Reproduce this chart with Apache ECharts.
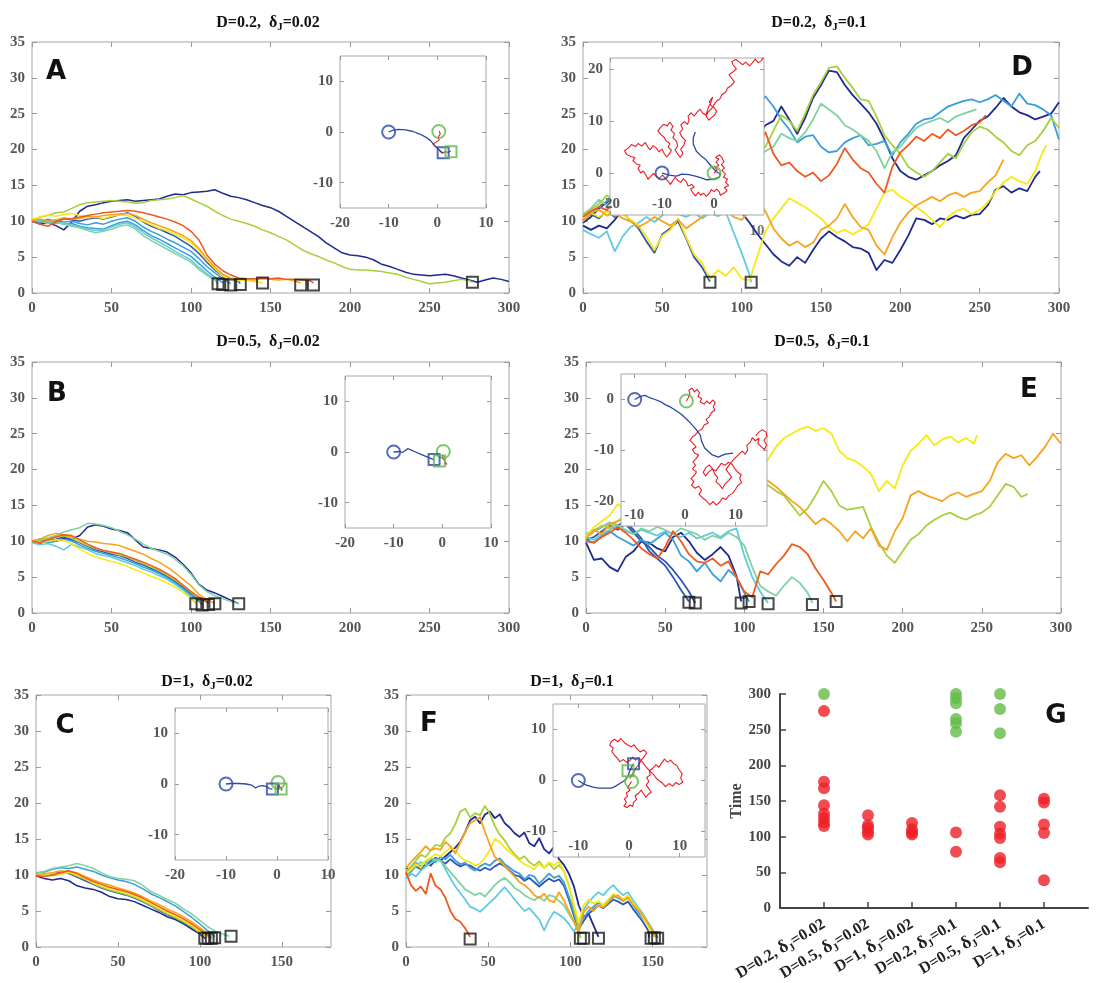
<!DOCTYPE html>
<html>
<head>
<meta charset="utf-8">
<script src="https://cdn.jsdelivr.net/npm/echarts@6.0.0/dist/echarts.min.js"></script>
<style>
html, body { margin: 0; padding: 0; background: #fff; }
#chart { width: 1097px; height: 983px; }
</style>
</head>
<body>
<div id="chart"></div>
<script>
// ---------- data ----------
const STEP = 5;     // panels A-E: one value every 5 time units
const STEP_F = 3;   // panel F: one value every 3 time units

// A  D=0.2, dJ=0.02
const aNavy = [10.0,9.6,9.8,9.4,8.8,9.9,11.4,12.1,12.3,12.6,12.8,12.9,13.0,12.8,12.9,13.0,13.1,13.5,13.8,13.7,14.0,14.1,14.2,14.4,13.9,13.5,13.3,13.0,12.6,12.2,11.9,11.4,10.7,10.0,9.3,8.6,7.9,7.0,6.3,5.6,5.3,5.2,5.0,4.6,4.0,3.7,3.3,2.9,2.6,2.5,2.4,2.5,2.6,2.4,2.1,1.8,1.5,1.8,2.1,1.9,1.6];
const aYGreen = [10.2,10.6,10.8,11.2,11.3,11.8,12.3,12.6,12.7,12.8,12.9,12.8,12.7,12.5,12.6,12.9,13.0,13.1,13.3,13.6,13.1,12.6,12.1,11.4,10.8,10.3,10.0,9.7,9.3,8.8,8.4,7.9,7.4,6.7,6.0,5.5,5.1,4.6,4.2,3.7,3.3,3.2,3.2,3.1,3.0,2.8,2.6,2.2,1.9,1.6,1.3,1.4,1.5,1.7,1.9,1.7,1.5];
const aORed = [10.0,9.6,9.3,9.9,10.3,10.4,10.6,10.8,11.0,11.2,11.3,11.4,11.5,11.4,11.2,10.9,10.6,10.3,9.9,9.4,8.6,7.4,5.3,4.0,3.1,2.5,2.1,2.0,2.0,2.1,2.0,2.1,1.9,1.9,1.8,1.7,1.4];
const aOrange = [10.1,10.3,10.0,10.2,10.5,10.3,10.4,10.7,10.6,10.8,10.9,11.0,11.1,10.8,10.3,9.8,9.4,9.0,8.5,8.0,7.3,6.2,4.8,3.6,2.6,2.1,1.9,1.9,1.8,2.0,1.9,1.8,1.9,1.7,1.4];
const aYellow = [10.3,10.6,10.9,10.7,10.9,11.1,10.8,10.5,10.6,10.4,10.7,10.9,10.8,10.4,10.0,9.5,9.0,8.7,8.2,7.7,7.0,5.9,4.6,3.4,2.4,1.9,1.7,1.8,1.6,1.4];
const aBlue2 = [10.0,9.7,10.2,10.0,10.4,10.2,10.0,10.3,10.5,10.3,10.6,10.9,11.2,10.7,9.9,9.3,8.9,8.4,7.9,7.2,6.5,5.5,4.3,3.2,2.4,2.0,1.6,1.3];
const aBlue = [9.9,10.2,9.8,10.1,9.9,10.0,9.7,9.5,9.8,9.6,10.0,10.3,10.5,10.0,9.2,8.6,8.1,7.5,7.0,6.4,5.8,4.8,3.7,2.8,2.0,1.3];
const aLBlue = [10.1,9.9,10.3,9.9,9.6,9.7,9.3,9.1,9.0,8.9,9.4,9.8,10.0,9.5,8.7,8.0,7.5,6.9,6.3,5.7,5.1,4.1,3.1,2.2,1.4];
const aCyan = [10.0,10.3,10.0,9.7,9.8,9.4,9.2,8.9,8.7,8.8,9.2,9.6,9.8,9.2,8.4,7.7,7.1,6.5,5.8,5.2,4.6,3.6,2.7,1.9,1.3];
const aTeal = [10.2,10.0,9.7,9.9,9.6,9.3,9.1,8.7,8.4,8.6,8.9,9.3,9.5,8.9,8.0,7.3,6.7,6.1,5.5,4.9,4.3,3.3,2.5,1.8,1.3];
const aEnds = [[117,1.3],[120,1.2],[125,1.1],[131,1.2],[145,1.4],[169,1.1],[177,1.1],[277,1.5]];

// B  D=0.5, dJ=0.02
const bNavy = [10.0,10.3,10.1,10.0,10.4,10.3,10.8,12.0,12.3,12.1,11.7,11.5,11.2,10.2,9.2,9.0,8.8,8.5,7.8,6.8,5.6,4.0,3.2,2.8,2.3,1.8,1.3];
const bTeal = [10.0,10.2,10.5,10.8,11.3,11.6,11.9,12.5,12.4,12.2,11.9,11.4,10.9,10.3,9.6,9.0,8.6,8.2,7.5,6.6,5.4,3.9,3.0,2.4,2.0,1.6,1.3];
const bOrange = [10.0,10.3,10.8,11.1,10.9,10.6,10.3,10.0,9.9,9.7,9.6,9.4,9.0,8.6,8.2,7.6,7.1,6.4,5.6,4.7,3.8,2.6,1.9,1.3];
const bORed = [10.0,9.8,10.2,10.6,10.9,10.8,10.2,9.6,9.1,8.7,8.5,8.3,7.9,7.5,7.1,6.6,6.1,5.5,4.8,3.9,3.0,2.2,1.5,1.3];
const bBlue = [10.0,9.7,10.1,10.3,10.6,10.2,9.8,9.3,8.8,8.5,8.2,8.0,7.6,7.1,6.7,6.2,5.7,5.1,4.4,3.6,2.7,1.7,1.2];
const bLBlue = [9.9,10.1,9.8,10.0,10.3,10.0,9.5,9.0,8.6,8.3,8.0,7.7,7.3,6.9,6.4,6.0,5.5,4.9,4.2,3.4,2.5,1.6,1.2];
const bCyan = [9.8,9.5,9.7,9.3,8.8,9.6,9.2,8.8,8.3,8.0,7.8,7.4,7.0,6.6,6.1,5.7,5.2,4.7,4.0,3.2,2.2,1.3];
const bYellow = [10.0,9.8,10.0,10.2,10.1,9.6,8.9,8.3,7.8,7.5,7.2,6.9,6.5,6.0,5.6,5.1,4.7,4.2,3.6,2.9,2.0,1.3];
const bYGreen = [10.1,10.2,10.4,10.6,10.8,10.4,9.9,9.4,9.0,8.7,8.4,8.1,7.8,7.3,6.9,6.4,5.9,5.3,4.6,3.8,2.9,1.9,1.3];
const bEnds = [[103,1.3],[107,1.1],[111,1.2],[115,1.3],[130,1.3]];

// C  D=1, dJ=0.02
const cTeal = [10.2,10.5,10.9,11.1,11.3,11.6,11.3,10.9,10.3,9.8,9.5,9.4,9.2,8.6,7.7,7.2,6.6,6.1,5.3,4.6,3.7,2.8,2.1,1.7,1.5];
const cLBlue = [10.3,10.4,10.8,11.0,10.9,11.1,10.8,10.5,10.0,9.6,9.3,9.1,8.7,8.1,7.4,6.9,6.3,5.7,4.9,4.1,3.2,2.2,1.4];
const cOrange = [10.0,10.2,10.3,10.6,10.5,10.3,9.8,9.3,8.9,8.6,8.2,7.9,7.5,7.0,6.4,5.9,5.3,4.8,4.2,3.5,2.7,1.8,1.3];
const cORed = [9.9,9.8,10.0,10.3,10.6,10.2,9.6,9.1,8.7,8.3,8.0,7.7,7.3,6.8,6.2,5.6,5.0,4.5,3.9,3.2,2.4,1.6,1.2];
const cYellow = [10.1,9.9,10.2,10.1,10.4,10.0,9.5,8.9,8.5,8.1,7.8,7.5,7.1,6.6,6.0,5.4,4.8,4.3,3.7,3.0,2.2,1.3];
const cYGreen = [10.0,10.0,9.9,10.1,10.3,9.9,9.4,8.8,8.3,7.9,7.6,7.3,6.9,6.4,5.8,5.2,4.6,4.1,3.5,2.8,2.0,1.3];
const cNavy = [9.9,9.5,9.3,9.5,9.2,8.5,8.2,8.0,7.6,7.0,6.7,6.6,6.3,5.8,5.3,4.8,4.2,3.8,3.2,2.5,1.8,1.2];
const cBlue = [10.0,9.9,10.1,10.4,10.2,9.7,9.2,8.7,8.2,7.8,7.5,7.2,6.8,6.3,5.7,5.1,4.5,4.0,3.4,2.7,1.9,1.2];
const cEnds = [[103,1.2],[105,1.2],[107,1.2],[109,1.3],[119,1.5]];

// D  D=0.2, dJ=0.1
const dCyan = [8.8,8.2,7.7,8.6,5.8,7.9,9.2,9.8,10.6,9.9,10.8,11.4,11.0,10.6,11.2,10.4,11.2,10.7,11.3,8.4,5.6,2.5,1.5];
const dBlue = [10.2,11.0,10.4,11.5,10.6,11.2,10.1,9.0,7.2,5.6,8.2,9.0,10.0,7.6,5.0,3.6,1.6];
const dYellow = [10.4,11.2,10.6,11.4,10.8,11.0,10.2,9.4,7.8,6.0,8.0,8.8,10.4,7.8,5.4,4.2,2.0,3.2,2.4,3.6,2.0,1.8,5.2,8.6,10.4,11.8,13.2,12.6,12.0,11.2,10.4,9.2,8.4,8.8,8.2,8.8,9.6,11.8,14.0,14.4,13.4,12.8,12.0,11.2,10.2,9.2,10.6,11.4,11.8,11.0,11.6,12.6,14.2,15.4,16.2,15.6,15.2,17.0,19.8,20.6];
const dNavyLow = [9.4,8.8,9.4,9.0,10.2,11.6,12.4,13.0,12.2,13.4,12.8,13.6,14.2,13.0,12.4,13.2,12.0,12.6,11.8,12.4,11.2,9.8,8.2,6.8,5.4,4.4,3.8,5.0,4.2,6.0,7.6,8.6,7.8,7.2,6.4,6.2,5.6,3.2,4.6,4.2,6.0,8.0,10.4,10.2,9.6,10.4,10.2,10.8,10.4,10.9,11.0,12.2,14.4,14.9,14.0,14.6,14.2,16.2,17.0];
const dOrange = [10.0,11.2,11.6,10.8,11.2,10.4,10.0,9.2,9.8,10.6,10.0,9.4,10.2,9.0,9.8,10.6,11.4,10.8,11.6,10.6,10.2,11.4,13.0,11.4,9.0,7.6,6.6,7.2,6.4,7.0,8.8,9.4,10.4,12.4,10.6,9.2,8.8,6.6,5.4,7.8,9.8,11.2,12.2,12.8,13.4,12.8,13.6,14.0,13.4,14.0,14.2,15.4,16.4,18.6];
const dORed = [10.6,11.4,12.0,11.6,12.6,12.0,13.2,14.0,13.4,14.6,15.2,14.4,15.8,16.4,15.6,17.0,17.8,16.8,18.2,19.0,18.4,19.6,20.8,22.4,19.4,17.8,18.2,17.0,16.2,16.8,15.6,16.4,18.0,20.2,18.6,17.4,16.8,15.2,14.0,17.6,19.6,20.6,21.8,21.2,22.2,21.6,22.8,22.0,22.6,23.4,23.8,24.8];
const dTeal = [11.0,11.8,13.0,12.2,13.6,14.4,13.8,15.0,15.8,15.0,16.2,17.0,16.4,17.6,18.2,17.4,18.6,19.2,18.4,19.6,18.8,19.4,18.6,19.8,20.4,22.2,21.6,21.2,22.4,24.2,26.4,25.6,24.8,23.4,22.8,22.0,21.2,19.8,17.4,19.6,20.4,21.8,23.0,23.6,24.0,24.4,23.8,24.6,25.0,25.4,25.6];
const dYGreen = [10.8,11.6,12.4,13.6,13.0,14.2,14.8,14.0,15.2,15.8,15.0,16.2,16.8,16.0,17.2,17.8,17.0,18.2,18.8,18.0,19.0,18.6,19.6,20.4,22.6,24.8,24.0,22.6,25.0,27.6,29.4,31.4,31.6,30.0,28.6,27.0,26.8,24.6,22.0,20.6,19.4,17.6,16.8,16.2,17.0,18.2,19.4,18.8,20.8,22.4,23.2,22.8,21.8,21.0,19.8,19.2,20.6,21.2,22.6,24.4,23.0];
const dNavyHigh = [9.8,10.6,11.8,12.6,13.4,12.8,14.0,14.6,15.4,16.2,17.0,16.4,17.6,18.4,17.8,19.0,19.8,19.2,20.4,21.0,22.2,23.0,22.0,23.4,24.0,26.0,24.2,22.2,24.4,27.2,29.0,31.0,30.8,29.0,27.6,26.4,25.2,23.6,21.4,18.8,17.0,16.2,15.8,16.4,17.0,17.8,18.4,19.2,21.6,22.8,24.0,24.6,25.8,27.2,26.0,25.2,24.8,24.2,24.6,25.0,26.6];
const dLBlue = [10.2,11.0,12.0,12.8,14.0,15.2,16.0,17.2,18.0,19.2,20.0,21.2,22.0,21.4,22.6,23.4,24.0,23.2,24.6,25.4,26.0,26.8,26.2,27.4,26.0,24.2,22.8,21.0,21.8,22.0,20.4,19.6,19.8,21.0,21.6,22.0,20.6,20.8,21.2,19.2,21.0,22.2,23.6,24.2,24.4,25.2,26.0,26.4,26.8,27.0,26.6,27.0,27.6,26.8,26.0,27.8,26.4,26.2,25.6,24.8,21.4];
const dEnds = [[80,1.5],[106,1.5]];

// E  D=0.5, dJ=0.1
const eNavy = [9.8,7.4,7.6,6.4,5.8,7.8,8.6,10.0,9.8,9.0,8.6,10.6,11.2,10.0,8.4,7.4,8.2,9.2,8.0,5.2,1.6];
const eBlue = [10.6,11.4,12.0,12.6,12.2,12.8,11.6,10.4,8.6,7.6,6.6,5.0,3.2,1.6];
const eBlue2 = [10.2,10.6,11.4,12.2,11.6,12.4,11.2,10.0,9.2,8.0,7.2,6.0,4.6,3.0,1.4];
const eLBlue = [10.2,9.8,10.8,11.4,10.6,10.0,9.4,10.2,9.6,10.4,11.2,10.2,8.0,7.2,5.8,7.0,5.4,4.4,6.0,5.0,2.8,1.6];
const eCyan = [10.6,10.2,11.0,11.6,12.2,11.4,11.0,11.6,11.2,10.8,11.4,11.0,10.6,11.2,10.4,10.8,11.2,10.6,11.4,11.8,8.0,5.0,3.0,1.4];
const eTeal = [11.0,11.6,12.0,12.6,12.2,11.6,11.0,11.8,11.4,12.0,11.6,11.0,11.8,11.4,11.0,10.2,10.8,10.4,11.2,10.6,9.4,6.4,3.8,3.0,2.4,3.8,5.0,4.2,2.8,1.4];
const eYGreen = [10.8,11.4,12.2,11.8,12.8,13.6,13.0,14.2,15.0,14.4,15.6,16.4,15.8,16.6,17.4,16.8,17.8,18.4,17.6,18.6,17.8,18.4,17.6,17.8,17.0,16.4,15.0,13.6,14.6,16.4,18.4,17.0,15.0,14.4,14.6,14.8,12.0,9.8,8.0,7.0,8.6,10.2,11.0,12.2,13.0,13.6,14.0,13.4,13.0,13.6,14.0,14.8,16.4,18.0,17.6,16.2,16.6];
const eYellow = [10.6,12.0,12.8,13.6,15.2,14.4,15.6,16.4,17.0,16.2,17.4,18.0,17.2,18.6,19.4,18.8,20.0,19.4,20.6,21.2,20.4,21.0,20.2,21.4,23.2,24.4,25.0,25.6,26.0,25.4,25.8,25.0,22.6,21.6,21.2,20.4,19.4,17.0,18.4,17.4,20.6,22.6,23.6,24.8,23.4,24.2,24.6,23.8,24.4,23.6,24.8];
const eOrange = [10.4,11.6,11.0,12.4,12.8,13.2,12.6,13.8,14.6,14.0,15.2,15.8,15.0,16.2,17.0,16.4,17.6,18.2,17.6,18.8,19.4,18.6,19.2,18.4,17.6,16.6,15.6,14.8,13.6,12.4,13.2,12.4,11.4,10.0,11.4,10.4,11.8,9.4,8.8,11.4,13.2,16.4,17.0,16.4,16.0,15.6,16.4,16.8,16.2,16.6,17.0,18.4,21.0,22.2,21.6,22.0,20.6,21.8,23.2,25.0,23.6];
const eORed = [10.0,9.8,10.6,11.2,12.0,11.2,10.2,9.0,8.2,7.6,9.2,11.4,10.0,8.2,7.2,7.0,7.6,6.6,7.2,5.0,3.0,2.2,5.8,5.4,6.8,8.0,9.6,9.2,8.2,6.2,4.6,2.8,1.6];
const eEnds = [[65,1.5],[69,1.4],[98,1.4],[103,1.6],[115,1.3],[143,1.2],[158,1.6]];

// F  D=1, dJ=0.1
const fORed = [10.4,8.6,7.8,8.4,7.4,10.2,8.5,8.0,6.8,5.0,3.9,3.5,2.6,1.4];
const fNavy = [11.0,10.6,11.4,11.0,11.8,11.3,12.2,12.0,12.6,13.2,13.8,14.6,16.0,17.6,18.1,17.2,18.4,18.8,17.9,18.4,17.2,16.6,15.8,15.3,15.9,14.4,14.0,15.1,13.6,13.0,13.9,12.2,11.4,10.2,8.5,5.8,4.2,4.6,3.0,1.4];
const fYGreen = [10.5,11.2,12.0,12.8,12.5,13.4,14.2,14.0,15.2,15.8,17.1,18.8,19.2,18.0,18.6,18.3,19.6,18.5,16.8,15.6,14.8,13.7,12.9,12.2,12.6,11.8,11.3,11.9,11.0,11.6,10.8,11.4,10.5,8.6,5.5,2.4,1.3];
const fOrange = [11.0,11.8,12.5,13.2,14.0,13.4,13.7,13.5,14.6,14.0,13.0,14.5,16.0,17.2,17.6,18.0,16.0,14.2,12.5,12.0,11.2,10.5,9.8,9.0,8.6,8.0,7.2,6.8,7.4,6.5,6.2,7.6,6.5,5.0,3.6,2.0,4.8,5.6,5.0,5.8,5.5,6.2,6.9,7.2,6.4,6.8,5.9,5.2,4.5,3.3,2.2,1.3];
const fYellow = [10.2,10.8,11.5,11.0,12.0,12.4,12.9,12.6,13.2,13.8,13.4,12.5,12.0,11.8,11.3,11.6,12.4,13.5,15.0,14.6,13.8,13.2,12.6,12.0,11.5,11.2,10.8,11.5,11.0,11.8,11.3,11.9,10.4,8.5,6.0,3.4,5.8,6.6,6.0,6.4,5.8,6.6,7.4,7.0,6.6,7.2,6.0,5.4,4.2,3.0,1.5];
const fLBlue = [10.4,11.0,11.7,11.2,11.8,12.3,11.8,12.5,12.2,12.8,12.0,11.5,11.7,11.0,10.6,11.2,11.6,11.3,12.0,12.3,11.5,11.0,10.5,10.2,9.4,10.0,9.8,8.8,9.5,10.2,9.6,9.9,9.0,7.0,4.8,2.8,4.0,5.0,5.6,6.2,5.8,6.5,7.1,6.8,6.4,6.9,5.8,4.9,4.0,3.2,2.3,1.3];
const fBlue = [10.0,10.5,11.2,10.8,11.5,11.9,12.4,12.0,11.6,12.2,11.6,11.2,11.5,11.3,10.9,10.6,11.0,10.7,11.2,11.6,11.2,10.6,10.0,9.8,9.2,9.6,9.0,8.4,9.0,9.5,9.1,9.4,8.5,6.6,4.4,2.5,3.6,4.6,5.2,5.8,5.4,6.0,6.6,6.3,5.9,6.3,5.3,4.4,3.5,2.4,1.3];
const fTeal = [10.0,10.6,11.2,11.8,11.5,12.3,12.1,12.0,11.2,10.4,9.6,8.8,8.0,7.6,7.2,7.5,7.0,7.8,8.6,9.2,9.6,9.0,8.2,7.8,7.2,6.8,6.5,7.0,6.4,7.2,7.0,6.4,5.8,4.6,3.5,2.0,1.3];
const fCyan = [9.5,10.2,9.8,10.6,11.2,11.6,12.2,12.0,10.8,9.5,8.4,7.5,6.6,5.6,5.3,4.9,5.5,6.2,6.8,7.6,8.3,7.5,6.6,5.8,5.0,5.4,4.6,3.8,2.3,3.8,4.9,4.5,4.0,3.2,2.2,3.0,5.2,6.2,7.0,7.6,7.2,8.0,8.6,7.8,7.2,7.6,6.5,5.6,4.6,3.5,2.4,1.4];
const fEnds = [[39,1.1],[106,1.2],[108,1.2],[117,1.2],[149,1.2],[151,1.3],[153,1.2]];

// inset paths (x, y positions)
const aInBlue = [[-10,0],[-9.2,0.3],[-8,0.5],[-6.5,0.4],[-5,0.1],[-3.6,-0.4],[-2.4,-1.0],[-1.4,-1.7],[-0.6,-2.6],[0.2,-3.4],[0.8,-3.9],[1.2,-4.1]];
const aInRed = [[0.4,0.2],[0.6,-0.4],[0.2,-1.0],[0.4,-1.6],[-0.3,-2.0],[-0.9,-2.4],[-0.5,-2.8],[0.1,-3.2],[0.5,-3.7],[1.0,-4.2],[1.6,-3.9],[2.2,-4.0],[2.8,-3.8]];
const aInMarks = {start: [-10,0], target: [0.3,0.1], endBlue: [1.2,-4.1], endGreen: [2.8,-3.9]};

const bInBlue = [[-10,0],[-9.6,0.2],[-8.8,0.1],[-8.2,-0.1],[-7.1,0.66],[-5.5,0.0],[-4,-0.6],[-2.8,-1.1],[-1.7,-1.5]];
const bInRed = [[0.2,-0.6],[0.0,-1.2],[0.4,-1.6],[0.6,-2.0],[0.9,-2.4],[0.7,-2.7],[0.4,-2.2]];
const bInMarks = {start: [-10,0], target: [0.2,0.1], endBlue: [-1.7,-1.5], endGreen: [-0.6,-1.8]};

const cInBlue = [[-10,0],[-9,0.1],[-7.5,0.1],[-6,0],[-5,-0.2],[-4.2,-0.8],[-3.5,-0.4],[-2.8,-0.3],[-2,-0.5],[-1.5,-0.9],[-0.9,-1.0]];
const cInRed = [[0.3,0.1],[0.5,-0.4],[0.2,-0.8],[0.7,-0.6],[1.0,-1.0],[0.8,-1.3]];
const cInMarks = {start: [-10,0], target: [0.2,0.3], endBlue: [-0.9,-1.0], endGreen: [0.8,-1.0]};

const dInBlue = [[-10,0],[-8.6,-0.4],[-7.2,-0.6],[-6.2,-0.2],[-4.8,-0.3],[-3.6,-0.6],[-2.6,-0.9],[-1.4,-1.3],[-0.2,-1.2],[1.0,-0.8],[1.2,-0.2],[0.4,0.3],[-0.6,1.4],[-1.6,2.6],[-2.6,3.4],[-3.4,4.2],[-4.0,5.6],[-4.0,6.8],[-3.6,7.9]];
const dInRed = [[0,0],[0.6,0.6],[0.2,1.1],[0.9,1.5],[0.4,2.1],[0.9,2.7],[0.3,3.0],[1.0,3.5],[1.5,3.0],[1.9,2.2],[1.4,1.6],[2.0,1.0],[1.5,0.5],[2.2,-0.2],[1.8,-0.8],[2.6,-1.2],[2.2,-1.8],[2.8,-2.4],[2.0,-2.8],[2.5,-3.4],[1.9,-3.9],[1.2,-4.3],[1.0,-3.6],[0.5,-3.1],[0.0,-3.6],[-0.5,-3.2],[-0.9,-3.9],[-1.5,-4.5],[-2.0,-3.9],[-2.6,-4.3],[-3.0,-3.7],[-3.6,-4.4],[-4.1,-3.8],[-4.5,-3.1],[-3.8,-2.7],[-4.3,-2.2],[-5.0,-2.5],[-5.3,-1.7],[-5.9,-1.1],[-6.4,-1.8],[-7.0,-1.4],[-7.5,-0.8],[-8.0,-1.6],[-8.4,-2.2],[-8.9,-1.5],[-9.4,-1.0],[-9.9,-0.4],[-10.5,-1.0],[-11.1,-0.6],[-11.7,-0.1],[-12.2,-0.7],[-12.7,-1.2],[-13.1,-0.4],[-13.6,0.4],[-14.1,0.0],[-14.6,0.9],[-14.2,1.5],[-15.0,1.8],[-15.6,2.4],[-15.2,3.0],[-16.0,3.2],[-16.8,3.6],[-17.2,4.3],[-16.5,4.8],[-15.9,5.5],[-15.1,5.1],[-14.6,5.7],[-13.9,5.2],[-13.2,5.9],[-12.8,5.1],[-12.3,4.5],[-11.7,5.3],[-11.1,4.8],[-10.6,4.1],[-10.0,4.6],[-9.6,3.8],[-9.1,3.1],[-8.6,3.7],[-8.2,4.4],[-8.8,5.0],[-8.5,5.7],[-9.2,6.2],[-9.6,6.9],[-10.2,7.4],[-10.8,8.1],[-10.3,8.8],[-9.7,9.4],[-9.0,9.1],[-8.5,9.8],[-7.9,9.0],[-8.3,8.3],[-7.6,7.6],[-7.9,6.8],[-7.2,6.1],[-7.0,5.2],[-7.5,4.5],[-7.0,3.7],[-6.5,3.0],[-6.0,3.8],[-6.4,4.6],[-5.8,5.4],[-5.5,6.3],[-6.2,7.0],[-6.6,7.8],[-6.0,8.5],[-6.4,9.3],[-5.7,9.9],[-5.1,9.4],[-4.8,10.2],[-5.0,11.0],[-4.4,11.6],[-3.8,11.0],[-3.3,11.7],[-2.7,12.3],[-2.2,11.6],[-1.6,11.2],[-1.3,12.0],[-1.0,12.9],[-0.6,13.6],[-0.3,14.6],[-0.9,13.8],[-0.6,13.0],[0.1,12.5],[0.5,11.9],[0.1,11.2],[-0.5,10.7],[-1.0,10.2],[-1.5,10.9],[-1.2,11.7],[-0.5,12.4],[0.0,13.2],[0.5,13.9],[1.1,14.3],[1.5,15.1],[2.2,15.6],[2.6,16.4],[3.3,16.9],[3.9,17.6],[3.4,18.3],[2.9,19.0],[3.6,19.5],[4.3,20.1],[3.7,20.8],[3.4,21.5],[4.2,21.9],[4.9,21.4],[5.5,20.9],[6.1,21.4],[6.8,20.7],[7.4,21.3],[7.9,22.0],[8.5,21.3],[9.1,21.7],[9.6,22.5]];
const dInMarks = {start: [-10,0], target: [0,0]};

const eInBlue = [[-9.9,0],[-8.8,0.6],[-7.9,0.8],[-6.8,0.3],[-5.9,0],[-4.8,-0.4],[-3.9,-1.0],[-3,-1.4],[-2,-2.0],[-0.7,-2.9],[0.7,-4.2],[2.0,-5.6],[3.0,-6.9],[3.3,-8.2],[3.9,-9.5],[5.3,-10.8],[6.6,-11.3],[7.9,-10.7],[9.5,-10.5]];
const eInRed = [[0.3,-0.3],[0.7,0.4],[1.0,1.1],[0.8,1.8],[1.4,2.2],[1.9,1.5],[2.4,2.0],[2.9,1.3],[2.6,0.6],[3.3,0.2],[3.0,-0.5],[3.8,-0.9],[4.3,-0.3],[4.9,-0.8],[5.5,-0.1],[6.0,-0.6],[5.6,-1.4],[5.9,-2.1],[5.2,-2.6],[4.8,-3.4],[4.2,-3.9],[4.6,-4.6],[3.8,-5.0],[3.4,-5.8],[2.7,-6.2],[2.1,-6.9],[1.5,-7.3],[1.0,-8.0],[1.6,-8.6],[2.2,-9.3],[1.5,-9.8],[1.9,-10.5],[2.7,-10.9],[2.2,-11.6],[1.6,-12.2],[2.1,-12.9],[1.5,-13.6],[2.3,-14.2],[1.8,-14.9],[1.2,-15.5],[1.8,-16.1],[1.3,-16.8],[2.0,-17.4],[2.7,-17.0],[3.3,-17.8],[2.8,-18.6],[3.5,-19.3],[4.2,-19.8],[4.9,-20.6],[5.6,-20.0],[6.2,-20.7],[6.9,-20.1],[7.4,-19.3],[8.1,-19.6],[8.7,-18.8],[9.4,-18.4],[10.0,-17.6],[10.5,-16.8],[11.2,-16.3],[10.8,-15.5],[11.1,-14.7],[10.4,-14.2],[9.8,-13.5],[9.3,-12.7],[8.6,-12.3],[7.9,-12.9],[7.2,-12.5],[6.6,-13.3],[6.1,-14.0],[5.4,-13.6],[4.7,-14.2],[4.1,-15.0],[3.6,-14.3],[4.1,-13.4],[4.8,-12.8],[5.4,-13.5],[5.9,-14.6],[6.5,-15.3],[6.1,-16.1],[6.8,-16.7],[7.4,-17.5],[7.9,-16.6],[8.6,-15.9],[9.2,-15.2],[8.6,-14.4],[8.1,-13.7],[8.7,-12.9],[9.4,-12.0],[10.0,-11.4],[10.6,-10.8],[11.3,-10.1],[11.9,-10.7],[12.4,-9.9],[12.2,-9.0],[12.9,-8.4],[13.3,-7.5],[13.9,-8.1],[14.6,-7.6],[14.4,-8.6],[15.1,-9.3],[15.7,-9.8],[16.1,-8.9],[15.6,-8.0],[16.2,-7.2],[16.0,-6.4],[15.3,-5.9],[14.6,-6.4],[14.0,-7.1]];
const eInMarks = {start: [-9.9,0], target: [0.3,-0.3]};

const fInBlue = [[-10,0],[-9.2,-0.5],[-8.4,-0.9],[-7.1,-1.3],[-6.0,-1.5],[-5.1,-1.5],[-3.5,-1.5],[-2.8,-1.2],[-2.5,-0.9],[-1.5,-0.4],[-0.7,0.1],[-0.2,0.8],[0.1,1.8],[0.5,2.6],[0.9,3.3]];
const fInRed = [[0.5,-0.2],[0.1,-0.8],[-0.3,-1.4],[0.2,-1.9],[-0.5,-2.4],[-0.3,-3.1],[-0.9,-3.6],[-0.5,-4.3],[-1.0,-5.0],[-0.4,-5.3],[0.2,-4.8],[0.7,-5.1],[0.9,-4.3],[1.5,-3.7],[1.2,-3.0],[1.9,-2.5],[2.4,-1.9],[2.9,-2.6],[3.3,-3.3],[3.8,-2.7],[4.4,-2.3],[3.9,-1.6],[3.4,-0.9],[3.9,-0.2],[3.5,0.6],[4.2,1.1],[4.0,1.9],[4.7,2.4],[5.3,3.1],[5.9,2.6],[6.4,3.4],[7.0,4.2],[7.6,3.6],[8.2,4.0],[8.8,3.3],[9.4,3.0],[9.9,2.1],[10.5,1.3],[10.2,0.5],[10.6,-0.3],[9.9,-0.8],[9.2,-0.4],[8.6,-1.1],[7.9,-0.6],[7.2,-1.2],[6.6,-0.5],[6.0,-0.1],[5.4,0.4],[4.9,1.1],[4.3,1.7],[3.6,2.4],[3.0,3.1],[2.5,3.8],[1.9,4.4],[1.3,4.0],[0.7,4.6],[0.2,3.9],[-0.5,3.6],[-1.1,4.1],[-1.8,3.7],[-2.3,4.4],[-2.9,5.0],[-3.4,5.7],[-3.1,6.4],[-3.8,6.9],[-3.5,7.6],[-2.9,8.1],[-2.2,7.6],[-1.6,8.2],[-0.9,7.4],[-0.3,7.0],[0.4,6.6],[1.0,7.0],[1.6,6.2],[2.2,5.6],[2.9,6.0],[3.5,5.4],[3.0,4.7],[2.4,4.0],[2.0,3.2],[1.4,2.5],[1.0,1.7],[0.5,1.0],[0.2,0.4]];
const fInMarks = {start: [-10,0], target: [0.5,-0.2], endBlue: [0.9,3.3], endGreen: [-0.2,1.9]};

// G: capture times per parameter set
const gCats = [['0.2','0.02'],['0.5','0.02'],['1','0.02'],['0.2','0.1'],['0.5','0.1'],['1','0.1']];
const gRed = [[276,177,168,144,132,126,120,115],[130,116,112,107,103],[119,110,106,103],[106,79],[158,142,114,104,98,70,64],[153,148,117,105,39]];
const gGreen = [[300],[],[],[300,294,287,265,259,247],[300,279,245],[]];

const yMainTicks = [0,5,10,15,20,25,30,35];
const t300 = [0,50,100,150,200,250,300];
const t150 = [0,50,100,150];

// ---------- build ----------
const SERIF = 'Liberation Serif';
const COL = {
  navy: '#1d2b8f', blue: '#2f56b4', lblue: '#3a9edb', cyan: '#5fcbe0', teal: '#7fd1a2',
  ygreen: '#a7d03c', yellow: '#f7e915', orange: '#f8a31c', ored: '#ef5a1e',
  red: '#ed1c24', green: '#5fb946', pathBlue: '#2a48a6', black: '#1a1a1a'
};

const grids = [], xAxes = [], yAxes = [], series = [];

function frame(rect, xr, yr, xt, yt, o) {
  o = o || {};
  const gi = grids.length;
  const inset = !!o.inset;
  grids.push({
    left: rect[0], top: rect[1], width: rect[2], height: rect[3], show: true,
    outerBoundsMode: 'none', containLabel: false,
    borderColor: '#a8a8a8', borderWidth: 1,
    backgroundColor: inset ? '#fff' : 'transparent', z: inset ? 20 : 0
  });
  const z = inset ? 21 : 1;
  const tick = { inside: true, length: inset ? 4 : 5, lineStyle: { color: '#9a9a9a' } };
  const lab = { fontFamily: SERIF, fontWeight: 'bold', fontSize: 15, color: '#555' };
  const base = { type: 'value', gridIndex: gi, z, axisLine: { show: false, onZero: false }, splitLine: { show: false } };
  const xi = xAxes.length, yi = yAxes.length;
  xAxes.push({ ...base, position: 'bottom', min: xr[0], max: xr[1],
    axisTick: { ...tick, customValues: xt },
    axisLabel: { ...lab, customValues: xt, inside: !!o.xIn, margin: o.xIn ? 3 : 8 } });
  xAxes.push({ ...base, position: 'top', min: xr[0], max: xr[1],
    axisTick: { ...tick, customValues: xt }, axisLabel: { show: false } });
  yAxes.push({ ...base, position: 'left', min: yr[0], max: yr[1],
    axisTick: { ...tick, customValues: yt },
    axisLabel: { ...lab, customValues: yt, margin: 7 } });
  yAxes.push({ ...base, position: 'right', min: yr[0], max: yr[1],
    axisTick: { ...tick, customValues: yt }, axisLabel: { show: false } });
  return { xi, yi, z: inset ? 22 : 2 };
}

function traj(ys, step, end) {
  return ys.map((y, i) => [Math.min(i * step, end), y]);
}

function addLine(f, data, color, w) {
  series.push({ type: 'line', xAxisIndex: f.xi, yAxisIndex: f.yi, data, symbol: 'none',
    lineStyle: { color, width: w || 1.5, join: 'round' }, z: f.z, silent: true, clip: true });
}

function addMarks(f, data, symbol, color, size) {
  series.push({ type: 'scatter', xAxisIndex: f.xi, yAxisIndex: f.yi, data, symbol, symbolSize: size,
    itemStyle: { color: 'rgba(0,0,0,0)', borderColor: color, borderWidth: 2 }, z: f.z + 1, silent: true });
}

function mainPanel(rect, xMax, xt, lines, step, ends, w) {
  const f = frame(rect, [0, xMax], [0, 35], xt, yMainTicks);
  lines.forEach(([ys, end, c]) => addLine(f, traj(ys, step, end), COL[c], w));
  addMarks(f, ends, 'rect', COL.black, 11);
}

function insetPanel(rect, xr, yr, xt, yt, blue, red, m, xIn) {
  const f = frame(rect, xr, yr, xt, yt, { inset: true, xIn });
  addLine(f, red, COL.red, 1.1);
  addLine(f, blue, COL.pathBlue, 1.3);
  addMarks(f, [m.start], 'circle', COL.pathBlue, 13);
  addMarks(f, [m.target], 'circle', COL.green, 13);
  if (m.endBlue) addMarks(f, [m.endBlue], 'rect', COL.pathBlue, 11);
  if (m.endGreen) addMarks(f, [m.endGreen], 'rect', COL.green, 11);
}

// main panels
mainPanel([32, 42, 477, 251], 300, t300, [
  [aNavy, 300, 'navy'], [aBlue2, 131, 'blue'], [aBlue, 125, 'lblue'], [aLBlue, 120, 'lblue'],
  [aCyan, 117, 'cyan'], [aTeal, 117, 'teal'], [aYGreen, 277, 'ygreen'], [aYellow, 145, 'yellow'],
  [aOrange, 169, 'orange'], [aORed, 177, 'ored']
], STEP, aEnds, 1.5);

mainPanel([32, 362, 477, 251], 300, t300, [
  [bNavy, 130, 'navy'], [bBlue, 107, 'blue'], [bLBlue, 107, 'lblue'], [bCyan, 103, 'cyan'],
  [bTeal, 130, 'teal'], [bYGreen, 107, 'ygreen'], [bYellow, 103, 'yellow'], [bOrange, 115, 'orange'],
  [bORed, 111, 'ored']
], STEP, bEnds, 1.5);

mainPanel([36, 695, 295, 252], 180, t150, [
  [cNavy, 103, 'navy'], [cBlue, 103, 'blue'], [cLBlue, 109, 'lblue'], [cTeal, 118, 'teal'],
  [cYGreen, 105, 'ygreen'], [cYellow, 105, 'yellow'], [cOrange, 107, 'orange'], [cORed, 107, 'ored']
], STEP, cEnds, 1.5);

mainPanel([583, 42, 476, 251], 300, t300, [
  [dNavyLow, 288, 'navy'], [dNavyHigh, 300, 'navy'], [dBlue, 80, 'blue'], [dLBlue, 300, 'lblue'],
  [dCyan, 106, 'cyan'], [dTeal, 248, 'teal'], [dYGreen, 300, 'ygreen'], [dYellow, 292, 'yellow'],
  [dOrange, 265, 'orange'], [dORed, 254, 'ored']
], STEP, dEnds, 1.8);

mainPanel([586, 362, 475, 251], 300, t300, [
  [eNavy, 98, 'navy'], [eBlue, 65, 'blue'], [eBlue2, 69, 'blue'], [eLBlue, 103, 'lblue'],
  [eCyan, 115, 'cyan'], [eTeal, 143, 'teal'], [eYGreen, 279, 'ygreen'], [eYellow, 247, 'yellow'],
  [eOrange, 300, 'orange'], [eORed, 158, 'ored']
], STEP, eEnds, 1.8);

mainPanel([406, 695, 301, 252], 183, t150, [
  [fNavy, 117, 'navy'], [fBlue, 148, 'blue'], [fLBlue, 153, 'lblue'], [fCyan, 151, 'cyan'],
  [fTeal, 106, 'teal'], [fYGreen, 106, 'ygreen'], [fYellow, 150, 'yellow'], [fOrange, 152, 'orange'],
  [fORed, 39, 'ored']
], STEP_F, fEnds, 1.8);

// insets
insetPanel([340, 56, 146, 152], [-20, 10], [-15, 15], [-20, -10, 0, 10], [-10, 0, 10], aInBlue, aInRed, aInMarks, false);
insetPanel([345, 376, 146, 152], [-20, 10], [-15, 15], [-20, -10, 0, 10], [-10, 0, 10], bInBlue, bInRed, bInMarks, false);
insetPanel([175, 708, 153, 152], [-20, 10], [-15, 15], [-20, -10, 0, 10], [-10, 0, 10], cInBlue, cInRed, cInMarks, false);
insetPanel([610, 58, 154, 157], [-20, 9.6], [-8.1, 22.2], [-20, -10, 0], [0, 10, 20], dInBlue, dInRed, dInMarks, true);
insetPanel([621, 374, 146, 152], [-12.6, 16.2], [-24.8, 5], [-10, 0, 10], [-20, -10, 0], eInBlue, eInRed, eInMarks, true);
insetPanel([553, 704, 152, 153], [-15, 15], [-15, 15], [-10, 0, 10], [-10, 0, 10], fInBlue, fInRed, fInMarks, true);

// G scatter
const gGrid = grids.length;
grids.push({ left: 780, top: 694, width: 308, height: 214, show: false, outerBoundsMode: 'none', containLabel: false });
const gLab = { fontFamily: SERIF, fontWeight: 'bold', fontSize: 15, color: '#444' };
const gxi = xAxes.length, gyi = yAxes.length;
xAxes.push({
  type: 'value', gridIndex: gGrid, min: 0, max: 7, splitLine: { show: false },
  axisLine: { show: true, onZero: false, lineStyle: { color: '#444', width: 2 } },
  axisTick: { inside: true, length: 6, customValues: [1, 2, 3, 4, 5, 6], lineStyle: { color: '#444', width: 1.5 } },
  axisLabel: {
    customValues: [1, 2, 3, 4, 5, 6], rotate: 31, margin: 15,
    formatter: v => `{t|D=${gCats[v - 1][0]}, }{d|δ}{s|J}{t|=${gCats[v - 1][1]}}`,
    rich: {
      t: { fontFamily: SERIF, fontWeight: 'bold', fontSize: 16, color: '#222' },
      d: { fontFamily: SERIF, fontWeight: 'bold', fontSize: 18, color: '#222' },
      s: { fontFamily: SERIF, fontWeight: 'bold', fontSize: 11, color: '#222', padding: [10, 0, 0, 0] }
    }
  }
});
yAxes.push({
  type: 'value', gridIndex: gGrid, min: 0, max: 300, interval: 50, splitLine: { show: false },
  name: 'Time', nameLocation: 'middle', nameGap: 35,
  nameTextStyle: { fontFamily: SERIF, fontWeight: 'bold', fontSize: 16, color: '#444' },
  axisLine: { show: true, onZero: false, lineStyle: { color: '#444', width: 2 } },
  axisTick: { inside: true, length: 6, lineStyle: { color: '#444', width: 1.5 } },
  axisLabel: { ...gLab, margin: 9 }
});
const gPts = (lists) => lists.flatMap((vals, i) => vals.map(v => [i + 1, v]));
series.push({ type: 'scatter', xAxisIndex: gxi, yAxisIndex: gyi, data: gPts(gRed), symbolSize: 12,
  itemStyle: { color: '#ee1f25' }, silent: true });
series.push({ type: 'scatter', xAxisIndex: gxi, yAxisIndex: gyi, data: gPts(gGreen), symbolSize: 12,
  itemStyle: { color: '#63bb47' }, silent: true });

// titles and panel letters
const titles = [[268, 23, '0.2', '0.02'], [268, 342, '0.5', '0.02'], [207, 682, '1', '0.02'],
                [819, 23, '0.2', '0.1'], [822, 342, '0.5', '0.1'], [572, 682, '1', '0.1']];
const letters = [['A', 56, 72], ['B', 57, 394], ['C', 65, 726], ['D', 1022, 68], ['E', 1029, 390], ['F', 429, 724], ['G', 1056, 716]];

const graphic = [];
titles.forEach(([x, y, d, dj]) => graphic.push({
  type: 'text', x, y, z: 60,
  style: {
    text: `{t|D=${d},  δ}{s|J}{t|=${dj}}`, align: 'center', verticalAlign: 'middle',
    rich: {
      t: { fontFamily: SERIF, fontWeight: 'bold', fontSize: 16, fill: '#111' },
      s: { fontFamily: SERIF, fontWeight: 'bold', fontSize: 11, fill: '#111', padding: [9, 0, 0, 0] }
    }
  }
}));
letters.forEach(([t, x, y]) => graphic.push({
  type: 'text', x, y, z: 60,
  style: { text: t, fill: '#111', font: 'bold 26px "DejaVu Sans", sans-serif', align: 'center', verticalAlign: 'middle' }
}));
// stray tick label of the D inset that sits below its frame
graphic.push({ type: 'text', x: 757, y: 231, z: 1,
  style: { text: '10', fill: '#777', font: 'bold 15px "Liberation Serif"', align: 'center', verticalAlign: 'middle' } });

const chart = echarts.init(document.getElementById('chart'));
chart.setOption({
  animation: false,
  backgroundColor: '#fff',
  grid: grids,
  xAxis: xAxes,
  yAxis: yAxes,
  series,
  graphic
});
</script>
</body>
</html>
